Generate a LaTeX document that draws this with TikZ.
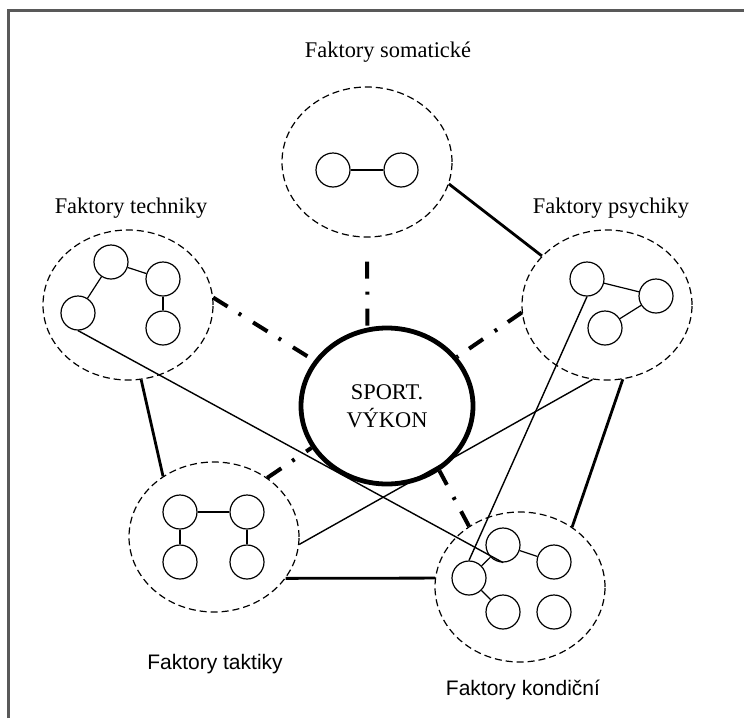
\documentclass[tikz,border=0pt]{standalone}
\usepackage{fontspec}
\setmainfont{Liberation Serif}
\newfontfamily\sansf{Liberation Sans}
\usetikzlibrary{shapes.geometric}

\tikzset{
  skupina/.style={draw, ellipse, dash pattern=on 3.5pt off 2pt, line width=0.6pt, minimum width=85pt, minimum height=75pt, inner sep=0pt},
  bod/.style={draw, circle, line width=0.6pt, minimum size=17pt, inner sep=0pt},
  vazba/.style={draw, line width=0.6pt},
  spoj/.style={draw, line width=1.4pt},
  tenka/.style={draw, line width=0.7pt},
  carka/.style={draw, line width=2pt, dash pattern=on 8.5pt off 6.5pt on 1.5pt off 7pt},
  popis/.style={font=\fontsize{11.2}{14}\selectfont},
  popissf/.style={font=\sansf\fontsize{10.5}{12}\selectfont},
}

\begin{document}
\begin{tikzpicture}[x=0.5pt,y=-0.5pt]
\useasboundingbox (0,0) rectangle (744,718);
\draw[line width=1.5pt, black!65] (8,718) -- (8,10) -- (744,10);

% skupiny faktoru
\node[skupina] (somaticke) at (367,162) {};
\node[skupina] (techniky) at (128,305) {};
\node[skupina] (psychiky) at (607,305) {};
\node[skupina] (taktiky) at (214,537) {};
\node[skupina] (kondicni) at (520,587) {};
\node[draw, ellipse, line width=2.4pt, minimum width=86pt, minimum height=78pt, popis, align=center] (sport) at (387,406) {SPORT.\\VÝKON};

\node[popis] (l1) at (388,52) {Faktory somatické};
\node[popis] (l2) at (131,208) {Faktory techniky};
\node[popis] (l3) at (611,208) {Faktory psychiky};
\node[popissf] (l4) at (215,664) {Faktory taktiky};
\node[popissf] (l5) at (523,690) {Faktory kondiční};

% somaticke
\node[bod] (s1) at (333,170) {};
\node[bod] (s2) at (401,170) {};
\path[vazba] (s1) -- (s2);

% techniky
\node[bod] (c1) at (111,262) {};
\node[bod] (c2) at (163,279) {};
\node[bod] (c3) at (78,313) {};
\node[bod] (c4) at (163,328) {};
\path[vazba] (c1) -- (c2);
\path[vazba] (c2) -- (c4);
\path[vazba] (c1) -- (c3);

% psychiky
\node[bod] (p1) at (587,279) {};
\node[bod] (p2) at (656,296) {};
\node[bod] (p3) at (605,328) {};
\path[vazba] (p1) -- (p2);
\path[vazba] (p2) -- (p3);

% taktiky
\node[bod] (t1) at (180,512) {};
\node[bod] (t2) at (247,512) {};
\node[bod] (t3) at (180,562) {};
\node[bod] (t4) at (247,562) {};
\path[vazba] (t1) -- (t2);
\path[vazba] (t1) -- (t3);
\path[vazba] (t2) -- (t4);

% kondicni
\node[bod] (k1) at (469,578) {};
\node[bod] (k2) at (503,545) {};
\node[bod] (k3) at (554,562) {};
\node[bod] (k4) at (503,612) {};
\node[bod] (k5) at (554,612) {};
\path[vazba] (k1) -- (k2);
\path[vazba] (k2) -- (k3);
\path[vazba] (k1) -- (k4);

% vnejsi spoje
\path[spoj] (somaticke.-15) -- (psychiky.143);
\path[spoj] (psychiky.-78) -- (kondicni.49);
\path[spoj] (techniky.-80) -- (taktiky.130);
\path[spoj] (taktiky.-30) -- (kondicni.174);

% dlouhe tenke spoje
\path[tenka] (c3.south) -- (k2.south);
\path[tenka] (p1.south) -- (k1.north);
\path[tenka] (taktiky.-5) -- (psychiky.259);

% vazby na vykon
\path[carka, shorten <=12pt] (somaticke.south) -- (sport.104);
\path[carka] (techniky.5) -- (sport.148);
\path[carka] (psychiky.185) -- (sport.35);
\path[carka] (taktiky.48) -- (sport.209);
\path[carka] (kondicni.130) -- (sport.-51);
\end{tikzpicture}
\end{document}
